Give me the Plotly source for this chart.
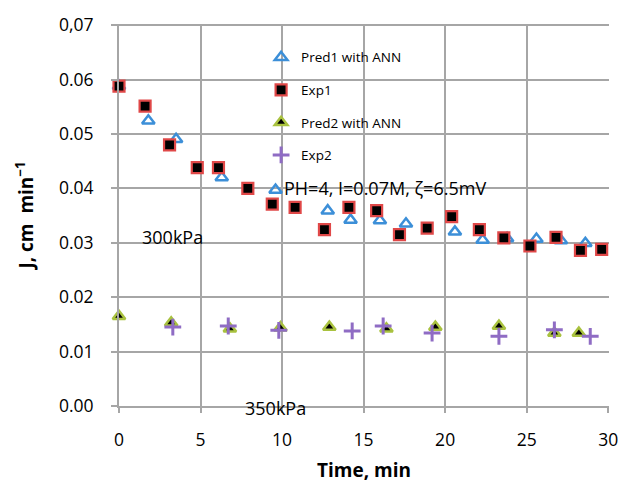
import plotly.graph_objects as go

# Data
exp1_t = [0, 1.6, 3.1, 4.8, 6.1, 7.9, 9.4, 10.8, 12.6, 14.1, 15.8, 17.2, 18.9, 20.4, 22.1, 23.6, 25.2, 26.8, 28.3, 29.6]
exp1_j = [0.0588, 0.0551, 0.0480, 0.0438, 0.0438, 0.0400, 0.0371, 0.0365, 0.0324, 0.0365, 0.0359, 0.0315, 0.0327, 0.0348, 0.0324, 0.0309, 0.0294, 0.0310, 0.0286, 0.0288]

pred1_t = [0, 1.8, 3.5, 6.3, 9.6, 12.8, 14.2, 16.0, 17.6, 20.6, 22.3, 23.8, 25.6, 27.1, 28.6]
pred1_j = [0.0588, 0.0524, 0.0490, 0.0420, 0.0397, 0.0359, 0.0342, 0.0341, 0.0335, 0.0320, 0.0305, 0.0308, 0.0307, 0.0304, 0.0299]

pred2_t = [0, 3.2, 6.8, 9.9, 12.9, 16.4, 19.4, 23.3, 26.7, 28.2]
pred2_j = [0.0165, 0.0153, 0.0142, 0.0144, 0.0145, 0.0142, 0.0145, 0.0147, 0.0134, 0.0134]

exp2_t = [3.3, 6.7, 9.8, 14.3, 16.2, 19.2, 23.3, 26.7, 28.9]
exp2_j = [0.0145, 0.0147, 0.0139, 0.0138, 0.0147, 0.0134, 0.0128, 0.0140, 0.0128]

x_ticks = [0, 5, 10, 15, 20, 25, 30]
y_ticks = [0.00, 0.01, 0.02, 0.03, 0.04, 0.05, 0.06, 0.07]
y_tick_labels = ["0.00", "0.01", "0.02", "0.03", "0.04", "0.05", "0.06", "0,07"]

grid = "#a6a6a6"
font_main = "Open Sans, Liberation Sans, sans-serif"

fig = go.Figure()
fig.add_trace(go.Scatter(x=pred1_t, y=pred1_j, mode="markers", name="Pred1 with ANN",
                         legendgroup="a", cliponaxis=False,
                         marker=dict(symbol="triangle-up-open", size=11, color="#3c8fd8",
                                     line=dict(width=2.5, color="#3c8fd8"))))
fig.add_trace(go.Scatter(x=exp1_t, y=exp1_j, mode="markers", name="Exp1",
                         legendgroup="b", cliponaxis=False,
                         marker=dict(symbol="square", size=11, color="black",
                                     line=dict(width=2.2, color="#e04848"))))
fig.add_trace(go.Scatter(x=pred2_t, y=pred2_j, mode="markers", name="Pred2 with ANN",
                         legendgroup="c", cliponaxis=False,
                         marker=dict(symbol="triangle-up", size=11, color="black",
                                     line=dict(width=2.5, color="#a9c23f"))))
fig.add_trace(go.Scatter(x=exp2_t, y=exp2_j, mode="markers", name="Exp2",
                         legendgroup="d", cliponaxis=False,
                         marker=dict(symbol="cross-thin-open", size=12, color="#8f6cc4",
                                     line=dict(width=3, color="#8f6cc4"))))

# The page body has an 8px default margin, so the figure is 8px smaller and margins shifted.
fig.update_layout(
    width=622, height=475,
    margin=dict(l=111, r=21, t=16, b=77),
    paper_bgcolor="white", plot_bgcolor="white",
    font=dict(family=font_main, color="black", size=17),
    legend=dict(x=0.29, y=0.953, xanchor="left", yanchor="top",
                bgcolor="rgba(0,0,0,0)", font=dict(size=13.5),
                tracegroupgap=12, itemwidth=30),
    annotations=[
        dict(x=10.0, y=0.0400, text="PH=4, I=0.07M, ζ=6.5mV", showarrow=False,
             xanchor="left", yanchor="middle", font=dict(size=18)),
        dict(x=1.3, y=0.0311, text="300kPa", showarrow=False,
             xanchor="left", yanchor="middle", font=dict(size=18)),
        dict(x=7.6, y=0.0, yshift=-2, text="350kPa", showarrow=False,
             xanchor="left", yanchor="middle", font=dict(size=18)),
    ],
)
fig.update_xaxes(range=[0, 30.05], tickvals=x_ticks, showgrid=True, gridcolor=grid, gridwidth=2,
                 showline=True, linecolor=grid, linewidth=2, ticks="outside", ticklen=5,
                 tickcolor=grid, tickwidth=2, zeroline=False, automargin=False,
                 ticklabelstandoff=12,
                 title=dict(text="<b>Time, min</b>", font=dict(size=19), standoff=20),
                 tickfont=dict(size=17.5))
fig.update_yaxes(range=[0, 0.0702], tickvals=y_ticks, ticktext=y_tick_labels, showgrid=True,
                 gridcolor=grid, gridwidth=2, showline=True, linecolor=grid, linewidth=2,
                 ticks="outside", ticklen=6, tickcolor=grid, tickwidth=2, zeroline=False,
                 automargin=False, ticklabelstandoff=14,
                 title=dict(text="<b>J, cm  min<sup>−1</sup></b>", font=dict(size=19), standoff=20),
                 tickfont=dict(size=17.5))

fig.write_html("out.html")
